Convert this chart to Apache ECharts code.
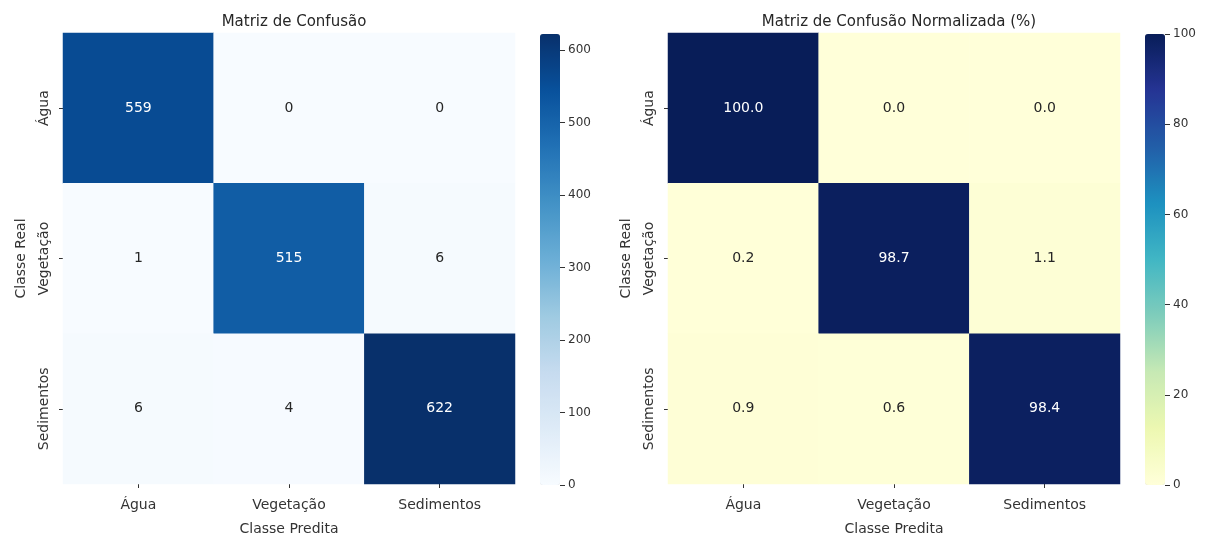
<!DOCTYPE html>
<html><head><meta charset="utf-8">
<script src="https://cdn.jsdelivr.net/npm/echarts@6/dist/echarts.min.js"></script>
<style>html,body{margin:0;padding:0;background:#fff}#c{width:1212px;height:538px}</style>
</head><body><div id="c"></div>
<script>
var categories = ['Água', 'Vegetação', 'Sedimentos'];
var countsMatrix = [
  [559, 0, 0],
  [1, 515, 6],
  [6, 4, 622]
];
var percentMatrix = [
  [100.0, 0.0, 0.0],
  [0.2, 98.7, 1.1],
  [0.9, 0.6, 98.4]
];
var countTickStep = 100, countTickTop = 600, countMax = 622;
var percentTickStep = 20, percentTickTop = 100, percentMax = 100;
var titles = ['Matriz de Confusão', 'Matriz de Confusão Normalizada (%)'];

var FONT = 'DejaVu Sans';
var blues = ['#f7fbff','#deebf7','#c6dbef','#9ecae1','#6baed6','#4292c6','#2171b5','#08519c','#08306b'];
var ylgnbu = ['#ffffd9','#edf8b1','#c7e9b4','#7fcdbb','#41b6c4','#1d91c0','#225ea8','#253494','#081d58'];

function buildData(m, maxV, dec) {
  var out = [];
  for (var r = 0; r < m.length; r++) {
    for (var c = 0; c < m[r].length; c++) {
      var v = m[r][c];
      out.push({
        value: [c, r, v],
        label: { color: v / maxV > 0.5 ? '#ffffff' : '#262626',
                 formatter: dec ? v.toFixed(1) : String(v) }
      });
    }
  }
  return out;
}

var gridW = 452, gridH = 451, gridTop = 33;
var leftX = [63, 668];
var cbX = [540, 1145], cbW = 20, cbTop = 34, cbH = 451;

function xAxisFor(i) {
  return {
    gridIndex: i, type: 'category', data: categories, position: 'bottom',
    axisLine: { show: false }, splitLine: { show: false },
    axisTick: { show: true, alignWithLabel: true, length: 4, lineStyle: { color: '#333' } },
    axisLabel: { margin: 14, fontFamily: FONT, fontSize: 14, color: '#333' },
    name: 'Classe Predita', nameLocation: 'middle', nameGap: 38,
    nameTextStyle: { fontFamily: FONT, fontSize: 14, color: '#333' }
  };
}
function yAxisFor(i) {
  return {
    gridIndex: i, type: 'category', data: categories, inverse: true, position: 'left',
    axisLine: { show: false }, splitLine: { show: false },
    axisTick: { show: true, alignWithLabel: true, length: 4, lineStyle: { color: '#333' } },
    axisLabel: { rotate: 90, margin: 12, fontFamily: FONT, fontSize: 14, color: '#333' },
    name: 'Classe Real', nameLocation: 'middle', nameRotate: 90, nameGap: 35,
    nameTextStyle: { fontFamily: FONT, fontSize: 14, color: '#333' }
  };
}
function cbGrid(x, tickTop, maxV) {
  var h = cbH * tickTop / maxV;
  return { left: x, top: cbTop + (cbH - h), width: cbW, height: h, outerBoundsMode: 'none', containLabel: false };
}
function cbAxes(i, tickTop, step) {
  return {
    x: { gridIndex: i, type: 'category', data: [''], show: false },
    y: {
      gridIndex: i, type: 'value', position: 'right', min: 0, max: tickTop, interval: step,
      axisLine: { show: false, onZero: false }, splitLine: { show: false },
      axisTick: { show: true, inside: false, length: 5, lineStyle: { color: '#333', width: 1 } },
      axisLabel: { show: true, margin: 8, fontFamily: FONT, fontSize: 12, color: '#333' }
    }
  };
}
var cb0 = cbAxes(2, countTickTop, countTickStep);
var cb1 = cbAxes(3, percentTickTop, percentTickStep);

var option = {
  backgroundColor: '#fff',
  animation: false,
  title: [
    { text: titles[0], left: leftX[0] + gridW / 2, top: 10, textAlign: 'center',
      textStyle: { fontFamily: FONT, fontSize: 15, fontWeight: 'normal', color: '#262626' } },
    { text: titles[1], left: leftX[1] + gridW / 2, top: 10, textAlign: 'center',
      textStyle: { fontFamily: FONT, fontSize: 15, fontWeight: 'normal', color: '#262626' } }
  ],
  grid: [
    { left: leftX[0], top: gridTop, width: gridW, height: gridH, outerBoundsMode: 'none', containLabel: false },
    { left: leftX[1], top: gridTop, width: gridW, height: gridH, outerBoundsMode: 'none', containLabel: false },
    cbGrid(cbX[0], countTickTop, countMax),
    cbGrid(cbX[1], percentTickTop, percentMax)
  ],
  xAxis: [xAxisFor(0), xAxisFor(1), cb0.x, cb1.x],
  yAxis: [yAxisFor(0), yAxisFor(1), cb0.y, cb1.y],
  visualMap: [
    { type: 'continuous', seriesIndex: 0, min: 0, max: countMax, calculable: false,
      orient: 'vertical', left: cbX[0], top: cbTop, itemWidth: cbW, itemHeight: cbH,
      padding: 0, showLabel: false, hoverLink: false, z: 1,
      inRange: { color: blues } },
    { type: 'continuous', seriesIndex: 1, min: 0, max: percentMax, calculable: false,
      orient: 'vertical', left: cbX[1], top: cbTop, itemWidth: cbW, itemHeight: cbH,
      padding: 0, showLabel: false, hoverLink: false, z: 1,
      inRange: { color: ylgnbu } }
  ],
  series: [
    { type: 'heatmap', xAxisIndex: 0, yAxisIndex: 0, data: buildData(countsMatrix, countMax, false),
      label: { show: true, fontFamily: FONT, fontSize: 14 }, itemStyle: { borderWidth: 0 } },
    { type: 'heatmap', xAxisIndex: 1, yAxisIndex: 1, data: buildData(percentMatrix, percentMax, true),
      label: { show: true, fontFamily: FONT, fontSize: 14 }, itemStyle: { borderWidth: 0 } }
  ]
};
var chart = echarts.init(document.getElementById('c'), null, { renderer: 'canvas' });
chart.setOption(option);
</script>
</body></html>
